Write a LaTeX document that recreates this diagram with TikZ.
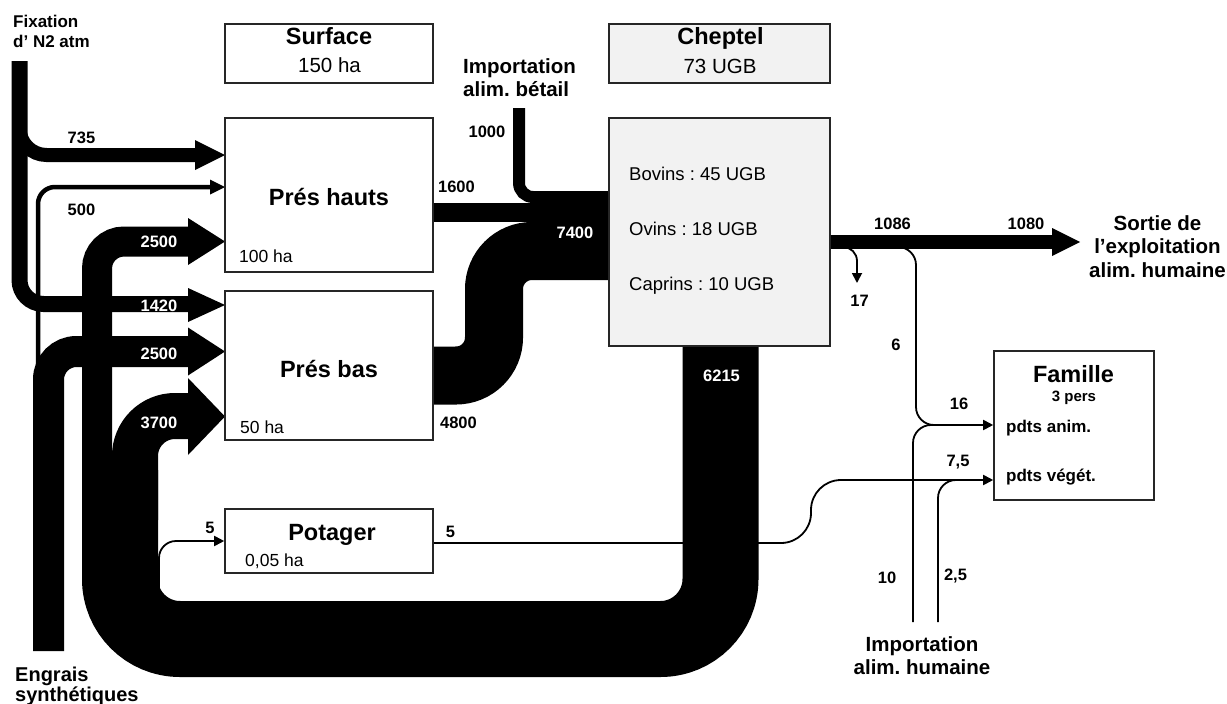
\documentclass[tikz,border=0pt]{standalone}
\usepackage{fontspec}
\setmainfont{Liberation Sans}
\usetikzlibrary{arrows.meta}
\pgfdeclarelayer{bg}
\pgfsetlayers{bg,main}
\frenchspacing
\begin{document}
\begin{tikzpicture}[x=1pt,y=-1pt,
  box/.style={draw=black!85,line width=1.6pt,fill=white,inner sep=0pt},
  gbox/.style={box,fill=black!5},
  band/.style={line width=#1,line cap=butt},
  tline/.style={line width=1.8pt},
  tarrow/.style={tline,-{Triangle[length=10pt,width=10pt]}},
  lab/.style={font=\bfseries\fontsize{16.5}{19}\selectfont,inner sep=0pt,anchor=base},
  wlab/.style={lab,text=white},
  ttl/.style={font=\bfseries\fontsize{23.5}{28}\selectfont,inner sep=0pt,anchor=base},
  sub/.style={font=\fontsize{20.5}{24}\selectfont,inner sep=0pt,anchor=base},
  sml/.style={font=\fontsize{17.5}{21}\selectfont,inner sep=0pt,anchor=base west},
  spc/.style={font=\fontsize{18.5}{22}\selectfont,inner sep=0pt,anchor=base west},
  big/.style={font=\bfseries\fontsize{20.5}{23.5}\selectfont,inner sep=0pt},
]
\path[use as bounding box] (0,0) rectangle (1227,704);

% ---------- boxes ----------
\node[box,minimum width=208pt,minimum height=59pt] (surf) at (329,53.5) {};
\node[gbox,minimum width=221pt,minimum height=59pt] (chtop) at (719.5,53.5) {};
\node[box,minimum width=208pt,minimum height=154pt] (ph) at (329,195) {};
\node[box,minimum width=208pt,minimum height=149pt] (pb) at (329,365.5) {};
\node[box,minimum width=208pt,minimum height=64pt] (pot) at (329,541) {};
\node[gbox,minimum width=221pt,minimum height=228pt] (chep) at (719.5,232) {};
\node[box,minimum width=160pt,minimum height=149pt] (fam) at (1074,425.5) {};

% ---------- box texts ----------
\node[ttl] at (329,45) {Surface};
\node[sub] at (329.5,72.7) {150 ha};
\node[ttl] at (720.5,45) {Cheptel};
\node[sub] at (720,73) {73 UGB};
\node[ttl] at (329,205) {Prés hauts};
\node[sml] at (239,262) {100 ha};
\node[ttl] at (329,377) {Prés bas};
\node[sml] at (240,433) {50 ha};
\node[ttl] at (332,540) {Potager};
\node[sml] at (245,566) {0,05 ha};
\node[spc] at (629,180) {Bovins : 45 UGB};
\node[spc] at (629,235) {Ovins : 18 UGB};
\node[spc] at (629,290.5) {Caprins : 10 UGB};
\node[ttl] at (1073.5,382) {Famille};
\node[font=\bfseries\fontsize{15}{18}\selectfont,inner sep=0pt,anchor=base] at (1074,401) {3 pers};
\node[font=\bfseries\fontsize{17}{20}\selectfont,inner sep=0pt,anchor=base west] at (1006,432) {pdts anim.};
\node[font=\bfseries\fontsize{17}{20}\selectfont,inner sep=0pt,anchor=base west] at (1006,481) {pdts végét.};

% ---------- outside texts ----------
\node[font=\bfseries\fontsize{17}{20}\selectfont,inner sep=0pt,anchor=north west,align=left] (fix) at (13,15) {Fixation\\d’ N2 atm};
\node[big,anchor=north west,align=left] (impb) at (463,58) {Importation\\alim. bétail};
\node[big,anchor=north,align=center] (sortie) at (1157.5,215) {Sortie de\\l’exploitation\\alim. humaine};
\node[big,anchor=north,align=center] (imph) at (922,636) {Importation\\alim. humaine};
\node[font=\bfseries\fontsize{20}{19.5}\selectfont,inner sep=0pt,anchor=north west,align=left] (engr) at (15,667) {Engrais\\synthétiques};

\coordinate (fixtop) at (19.5,61);
\coordinate (engbot) at (48.5,651);
\coordinate (imptop) at (519,108);
\coordinate (hum1) at (913,622);
\coordinate (hum2) at (938,622);

% ---------- flows ----------
\begin{pgfonlayer}{bg}
% thin lines behind
\draw[tarrow,rounded corners=30pt] (pot.east |- 0,543) -- (811,543) -- (811,480) -- (fam.west |- 0,480);
\draw[tline,rounded corners=18pt] (hum2) -- (938,480) -- (965,480);
\draw[tline,rounded corners=18pt] (hum1) -- (913,425) -- (960,425);
\draw[tarrow,rounded corners=18pt] (895,247) -- (916,247) -- (916,425) -- (fam.west |- 0,425);
\draw[tarrow,rounded corners=14pt] (836,247) -- (857,247) -- (857,283);
\draw[tarrow,rounded corners=17pt] (159,590) -- (159,541) -- (pot.west);
% fixation N2
\draw[band=16pt,rounded corners=24pt] (fixtop) -- (19.5,304) -- (188,304);
\fill (225,305) -- ++(-37,-17) -- ++(0,34) -- cycle;
\draw[band=14pt,rounded corners=27pt] (19.5,115) -- (19.5,155) -- (195,155);
\fill (225,155) -- ++(-30,-15) -- ++(0,30) -- cycle;
% engrais
\draw[line width=4.5pt,rounded corners=17pt] (38,372) -- (38,187) -- (211,187);
\fill (225,187) -- ++(-15,-7.5) -- ++(0,15) -- cycle;
\draw[band=31pt,rounded corners=28pt] (engbot) -- (48.5,351.5) -- (188,351.5);
\fill (225,351.5) -- ++(-37,-24) -- ++(0,48) -- cycle;
% recycled manure (6215)
\draw[band=76pt,rounded corners=60pt] (chep.south -| 720.5,0) -- (720.5,639) -- (120,639) -- (120,470);
\draw[band=46pt,rounded corners=40pt] (135,520) -- (135,416) -- (188,416);
\fill (225,416.5) -- ++(-37,-38.5) -- ++(0,77) -- cycle;
\draw[band=30pt,rounded corners=27pt] (97,520) -- (97,241.5) -- (188,241.5);
\fill (225,241.5) -- ++(-37,-23.5) -- ++(0,47) -- cycle;
% feed to cheptel
\draw[band=58pt,rounded corners=38pt] (433,375.5) -- (494,375.5) -- (494,251) -- (609,251);
\draw[band=19pt] (433,212.5) -- (609,212.5);
\draw[band=12pt,rounded corners=14pt] (imptop) -- (519,197) -- (609,197);
% output
\draw[band=14pt] (830,242) -- (1052,242);
\fill (1080,242) -- ++(-28,-14) -- ++(0,28) -- cycle;
\end{pgfonlayer}

% ---------- flow labels ----------
\node[lab] at (81.5,143) {735};
\node[lab] at (81.5,215) {500};
\node[wlab] at (159,247) {2500};
\node[wlab] at (159,311) {1420};
\node[wlab] at (159,359) {2500};
\node[wlab] at (159,428) {3700};
\node[lab] at (487,137) {1000};
\node[lab] at (456.5,192) {1600};
\node[wlab] at (575,238) {7400};
\node[lab] at (458.5,428) {4800};
\node[wlab] at (721.5,381) {6215};
\node[lab] at (210,533) {5};
\node[lab] at (450.5,537) {5};
\node[lab] at (892.5,229) {1086};
\node[lab] at (1026,229) {1080};
\node[lab] at (859.5,306) {17};
\node[lab] at (896,350) {6};
\node[lab] at (959,409) {16};
\node[lab] at (958,466) {7,5};
\node[lab] at (887,583) {10};
\node[lab] at (955.5,580) {2,5};
\end{tikzpicture}
\end{document}
